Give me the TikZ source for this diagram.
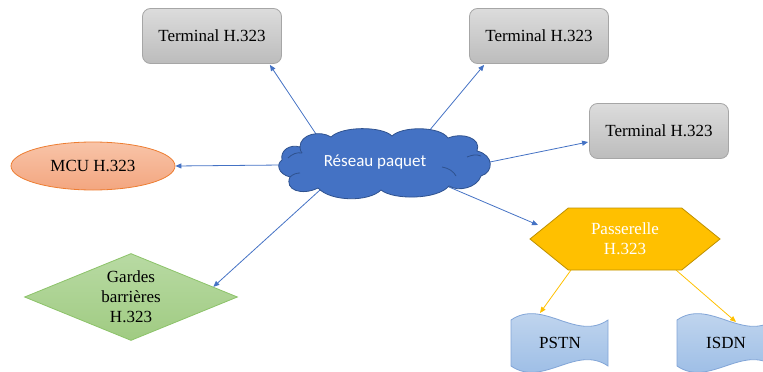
\documentclass[tikz,border=0pt]{standalone}
\usepackage{fontspec}
\setmainfont{Liberation Serif}
\newfontfamily\calfont{Carlito}
\usetikzlibrary{shapes.geometric,shapes.symbols,arrows.meta,calc,backgrounds}
\definecolor{ablue}{RGB}{68,114,196}
\definecolor{ayel}{RGB}{255,192,0}
\definecolor{ydraw}{RGB}{190,144,0}
\definecolor{termtop}{RGB}{220,220,220}
\definecolor{termbot}{RGB}{188,188,188}
\definecolor{termdraw}{RGB}{166,166,166}
\definecolor{mcutop}{RGB}{248,196,168}
\definecolor{mcubot}{RGB}{243,166,128}
\definecolor{mcudraw}{RGB}{237,125,49}
\definecolor{cldraw}{RGB}{47,82,143}
\definecolor{gktop}{RGB}{184,218,163}
\definecolor{gkbot}{RGB}{160,203,130}
\definecolor{gkdraw}{RGB}{140,195,105}
\definecolor{wvtop}{RGB}{200,218,240}
\definecolor{wvbot}{RGB}{150,185,228}
\definecolor{wvdraw}{RGB}{130,165,215}
\begin{document}
\begin{tikzpicture}[x=1pt,y=-1pt,
  every node/.style={font=\fontsize{17}{20}\selectfont, align=center},
  term/.style={rectangle, rounded corners=8pt, draw=termdraw, top color=termtop, bottom color=termbot, minimum width=139pt, minimum height=55pt, inner sep=0pt, line width=0.8pt},
  arr/.style={draw=ablue, line width=0.8pt, -{Triangle[length=6pt,width=5pt]}},
  yarr/.style={draw=ayel, line width=0.8pt, -{Triangle[length=6pt,width=5pt]}},
  wave/.style={draw=wvdraw, top color=wvtop, bottom color=wvbot, line width=0.8pt},
  cloudline/.style={draw=cldraw, line width=0.8pt}
]
\useasboundingbox (0,0) rectangle (763,372);
\clip (0,0) rectangle (763,372);

\node[term] (t1) at (212,36) {Terminal H.323};
\node[term] (t2) at (539,36) {Terminal H.323};
\node[term] (t3) at (659,131) {Terminal H.323};
\node[ellipse, draw=mcudraw, top color=mcutop, bottom color=mcubot, minimum width=164pt, minimum height=48pt, inner sep=0pt, line width=0.8pt] (mcu) at (93,166) {MCU H.323};

% cloud shape
\path[cloudline, fill=ablue]
  (282,160) .. controls (280,150) and (290,144) .. (300,147)
  .. controls (300,134) and (320,130) .. (331,137)
  .. controls (342,126) and (382,126) .. (392,136)
  .. controls (402,126) and (440,126) .. (448,138)
  .. controls (462,132) and (482,138) .. (477,151)
  .. controls (494,155) and (494,172) .. (481,176)
  .. controls (477,188) and (458,192) .. (449,186)
  .. controls (437,200) and (393,200) .. (381,190)
  .. controls (369,202) and (331,202) .. (318,188)
  .. controls (302,196) and (284,190) .. (290,177)
  .. controls (278,174) and (276,164) .. (282,160) -- cycle;
\draw[cloudline] (288,158) .. controls (292,154) and (297,152) .. (302,153);
\draw[cloudline] (300,147) .. controls (300,150) and (301,152) .. (302,153);
\draw[cloudline] (442,167) .. controls (449,168) and (454,172) .. (456,176);
\draw[cloudline] (467,157) .. controls (472,155) and (476,154) .. (481,156);
\draw[cloudline] (290,177) .. controls (293,174) and (297,173) .. (300,173);
\node[text=white] (cl) at (375,162) {\calfont Réseau paquet};

\node[diamond, aspect=2.45, draw=gkdraw, top color=gktop, bottom color=gkbot, minimum width=213pt, minimum height=87pt, inner sep=0pt, line width=0.8pt] (gk) at (131,297) {Gardes\\barrières\\H.323};
\node[signal, signal to=west and east, signal pointer angle=78, minimum width=190pt, minimum height=62pt, inner sep=0pt, fill=ayel, draw=ydraw, line width=0.8pt, text=white] (gw) at (625,239) {Passerelle\\H.323};

\path[wave] (511,320) .. controls (543,298) and (576,342) .. (608,320) -- (608,366) .. controls (576,344) and (543,388) .. (511,366) -- cycle;
\node (pstn) at (560,343) {PSTN};
\path[wave] (677,320) .. controls (709,298) and (742,342) .. (774,320) -- (774,366) .. controls (742,344) and (709,388) .. (677,366) -- cycle;
\node (isdn) at (726,343) {ISDN};

\begin{pgfonlayer}{background}
\draw[arr] ([shift={(-57,-25)}]cl.center) -- ([shift={(-12,1)}]t1.south east);
\draw[arr] ([shift={(54,-31)}]cl.center) -- ([shift={(15,1)}]t2.south west);
\draw[arr] ([shift={(110,1)}]cl.center) -- ([shift={(-1,11)}]t3.west);
\draw[arr] ([shift={(-93,3)}]cl.center) -- (mcu.east);
\draw[arr] ([shift={(-55,28)}]cl.center) -- ($(gk.north)!0.77!(gk.east)$);
\draw[arr] ([shift={(74,25)}]cl.center) -- ([shift={(-87,-14)}]gw.center);
\draw[yarr] ([shift={(-54,31)}]gw.center) -- ([shift={(-20,-30)}]pstn.center);
\draw[yarr] ([shift={(51,31)}]gw.center) -- ([shift={(10,-21)}]isdn.center);
\end{pgfonlayer}
\end{tikzpicture}
\end{document}
